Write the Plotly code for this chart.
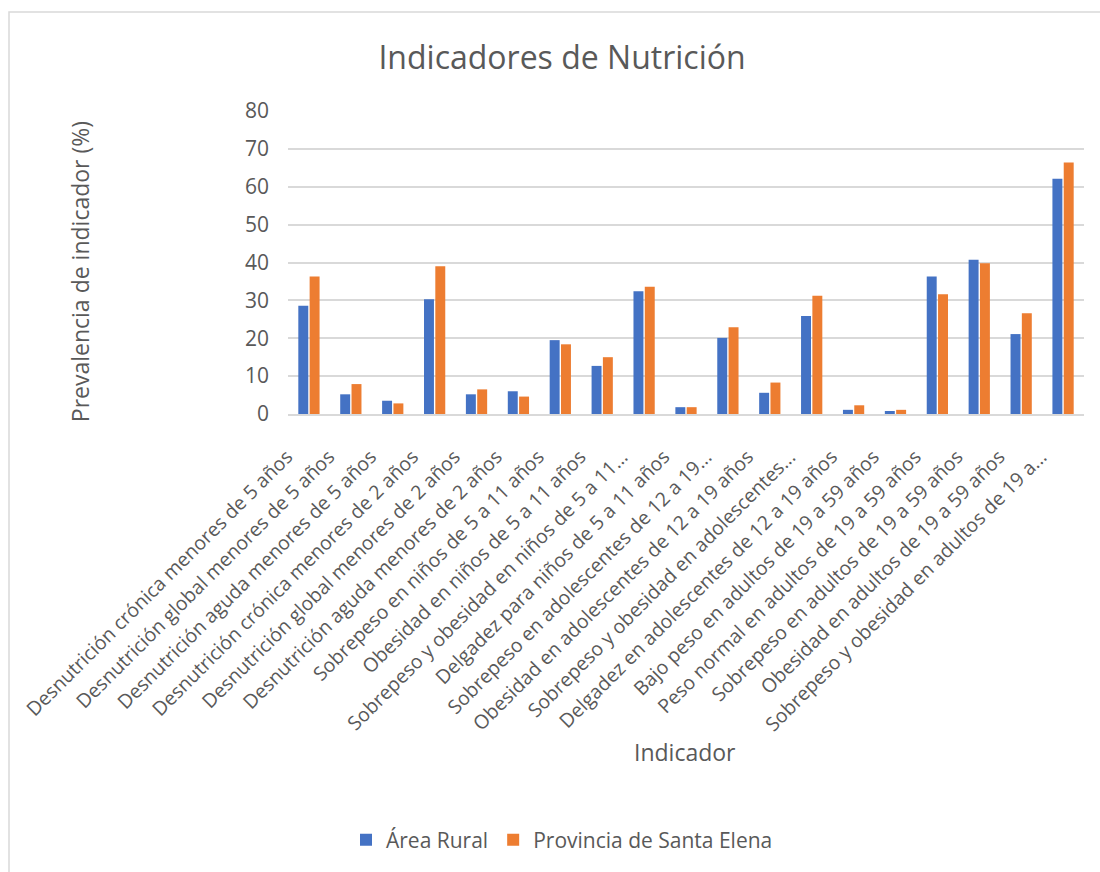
import plotly.graph_objects as go

# Indicator labels as shown on the category axis
indicadores = [
    "Desnutrición crónica menores de 5 años",
    "Desnutrición global menores de 5 años",
    "Desnutrición aguda menores de 5 años",
    "Desnutrición crónica menores de 2 años",
    "Desnutrición global menores de 2 años",
    "Desnutrición aguda menores de 2 años",
    "Sobrepeso en niños de 5 a 11 años",
    "Obesidad en niños de 5 a 11 años",
    "Sobrepeso y obesidad en niños de 5 a 11...",
    "Delgadez para niños de 5 a 11 años",
    "Sobrepeso en adolescentes de 12 a 19...",
    "Obesidad en adolescentes de 12 a 19 años",
    "Sobrepeso y obesidad en adolescentes...",
    "Delgadez en adolescentes de 12 a 19 años",
    "Bajo peso en adultos de 19 a 59 años",
    "Peso normal en adultos de 19 a 59 años",
    "Sobrepeso en adultos de 19 a 59 años",
    "Obesidad en adultos de 19 a 59 años",
    "Sobrepeso y obesidad en adultos de 19 a...",
]

# Prevalence (%) per series
area_rural = [28.6, 5.2, 3.5, 30.3, 5.2, 6.0, 19.5, 12.7, 32.4, 1.8,
              20.1, 5.6, 25.9, 1.1, 0.8, 36.3, 40.7, 21.1, 62.1]
santa_elena = [36.3, 7.9, 2.8, 39.0, 6.5, 4.6, 18.4, 15.0, 33.6, 1.8,
               22.9, 8.3, 31.2, 2.3, 1.1, 31.6, 39.8, 26.6, 66.4]

y_ticks = [0, 10, 20, 30, 40, 50, 60, 70, 80]

FONT = "Open Sans"
GRAY = "#595959"
BLUE = "#4472C4"
ORANGE = "#ED7D31"

fig = go.Figure()
fig.add_trace(go.Bar(x=indicadores, y=area_rural, name="Área Rural",
                     marker=dict(color=BLUE, line=dict(width=0))))
fig.add_trace(go.Bar(x=indicadores, y=santa_elena, name="Provincia de Santa Elena",
                     marker=dict(color=ORANGE, line=dict(width=0))))

fig.update_layout(
    width=1100, height=872,
    margin=dict(l=288, r=16, t=111, b=458, autoexpand=False),
    paper_bgcolor="white", plot_bgcolor="white",
    barmode="group", bargap=0.46, bargroupgap=0.12,
    font=dict(family=FONT, color=GRAY),
    title=dict(text="Indicadores de Nutrición", x=562 / 1100, xref="container",
               xanchor="center", y=1 - 58 / 872, yref="container", yanchor="middle",
               font=dict(family=FONT, size=32, color=GRAY)),
    showlegend=True,
    legend=dict(orientation="h", x=(562 - 288) / 796, xanchor="center",
                y=(414 - 840) / 303, yanchor="middle",
                font=dict(family=FONT, size=21, color=GRAY),
                itemwidth=30, tracegroupgap=0),
    xaxis=dict(type="category", tickangle=-45, automargin=False,
               tickfont=dict(family=FONT, size=19.5, color=GRAY),
               ticklabelshift=-22, ticklabelstandoff=22,
               showgrid=False, showline=True, linecolor="#D9D9D9", linewidth=1.5,
               ticks=""),
    yaxis=dict(range=[0, 80], tickvals=y_ticks, automargin=False,
               tickfont=dict(family=FONT, size=21, color=GRAY),
               showgrid=True, gridcolor="#D9D9D9", gridwidth=1.5,
               zeroline=False, showline=False, ticks="", ticklabelstandoff=18),
    annotations=[
        dict(text="Prevalencia de indicador (%)", textangle=-90, xref="paper", yref="paper",
             x=(62 - 288) / 796, y=0.468, showarrow=False,
             font=dict(family=FONT, size=23, color=GRAY)),
        dict(text="Indicador", xref="paper", yref="paper",
             x=(685 - 288) / 796, y=(414 - 770) / 303, showarrow=False,
             font=dict(family=FONT, size=23, color=GRAY)),
    ],
    shapes=[
        dict(type="rect", xref="paper", yref="paper",
             x0=(9 - 288) / 796, x1=(1110 - 288) / 796,
             y0=(414 - 890) / 303, y1=(414 - 12) / 303,
             line=dict(color="#D9D9D9", width=1.5), layer="below"),
    ],
)

fig.write_html("out.html")
